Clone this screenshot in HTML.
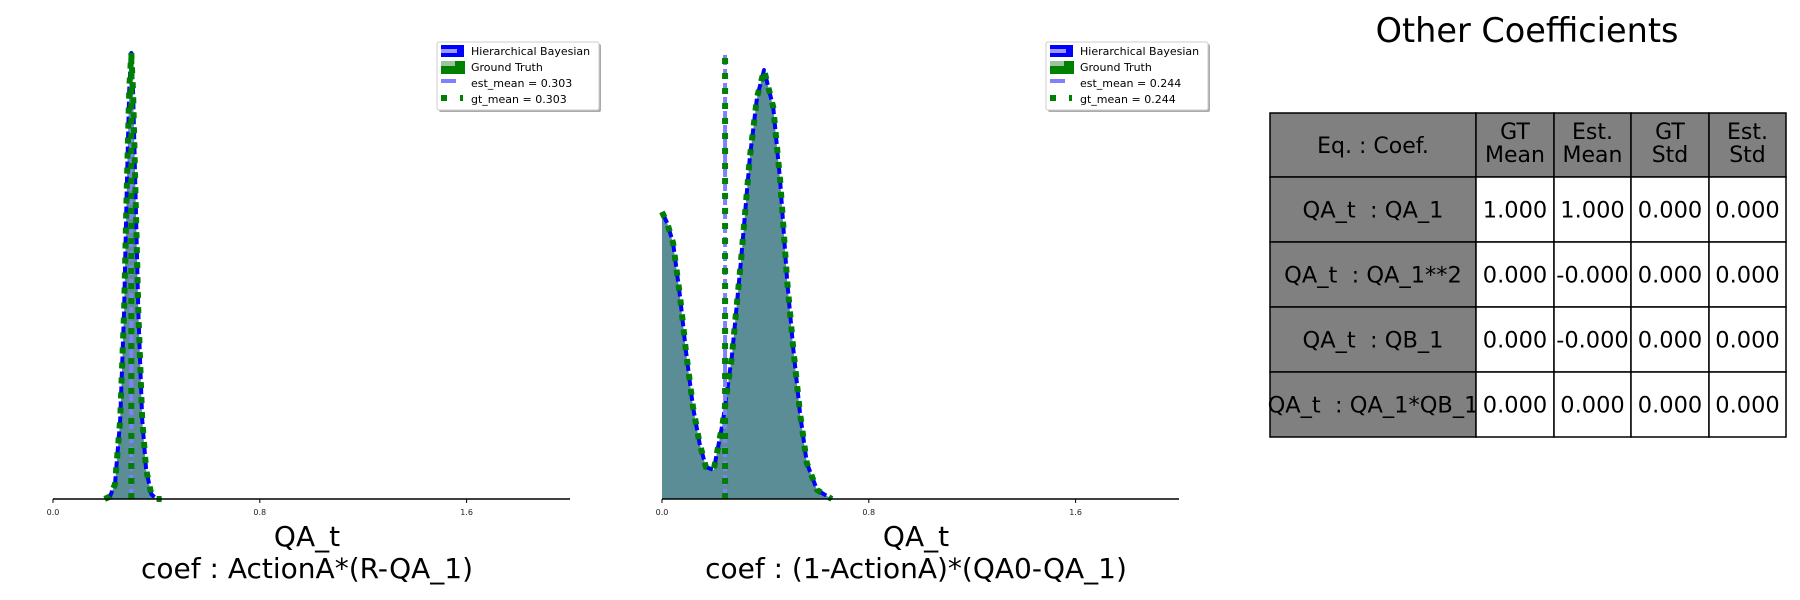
<!DOCTYPE html>
<html><head><meta charset="utf-8"><style>
html,body{margin:0;padding:0;background:#fff;}
svg{display:block;font-family:"DejaVu Sans","Liberation Sans",sans-serif;}
text{white-space:pre;}
</style></head><body>
<svg id="fig" width="1800" height="600" viewBox="0 0 1800 600" xml:space="preserve">
  <g id="c1"></g>
  <g id="c2"></g>
  <g id="tbl">
    <text x="1527" y="42" font-size="33.5" text-anchor="middle">Other Coefficients</text>
  </g>
</svg>
<script>
const NS='http://www.w3.org/2000/svg';
// chart 1 data
const c1X=[0.20,0.22,0.24,0.26,0.275,0.285,0.295,0.303,0.31,0.32,0.33,0.345,0.36,0.38,0.40,0.42];
const c1Y=[0,0.05,0.3,1.6,3.8,6.2,8.3,9.0,8.2,6.0,3.8,1.6,0.6,0.1,0,0];
const c1Mean=0.303;
const c1YMax=9.0;
// chart 2 data
const c2X=[0,0.02,0.043,0.07,0.092,0.12,0.145,0.17,0.2,0.235,0.27,0.305,0.34,0.368,0.395,0.43,0.457,0.484,0.507,0.534,0.56,0.6,0.657];
const c2Y=[2.87,2.76,2.56,2.02,1.49,0.92,0.56,0.32,0.29,0.76,1.42,2.36,3.42,4.02,4.29,3.92,3.19,2.19,1.52,0.86,0.36,0.09,0];
const c2Mean=0.244;
const c2YMax=4.46;
const xTicks=[0.0,0.8,1.6];
const xTickLabels=['0.0','0.8','1.6'];
const legendLabels=['Hierarchical Bayesian','Ground Truth'];
const c1MeanLabels=['est_mean = 0.303','gt_mean = 0.303'];
const c2MeanLabels=['est_mean = 0.244','gt_mean = 0.244'];
// table data
const colHeaders=[['Eq. : Coef.'],['GT','Mean'],['Est.','Mean'],['GT','Std'],['Est.','Std']];
const rowLabels=['QA_t  : QA_1','QA_t  : QA_1**2','QA_t  : QB_1','QA_t  : QA_1*QB_1'];
const gtMean=['1.000','0.000','0.000','0.000'];
const estMean=['1.000','-0.000','-0.000','0.000'];
const gtStd=['0.000','0.000','0.000','0.000'];
const estStd=['0.000','0.000','0.000','0.000'];

function mk(tag,attrs,parent){const e=document.createElementNS(NS,tag);for(const k in attrs)e.setAttribute(k,attrs[k]);if(parent)parent.appendChild(e);return e;}

function drawChart(g,x0,xs,ys,mean,yMax,meanLabels,title2){
  const axY=499,top=53,W=517,xMin=0,xMaxD=2.0;
  const sx=v=>x0+(v-xMin)/(xMaxD-xMin)*W;
  const sy=v=>axY-(v/yMax)*(axY-top);
  let d='M'+sx(xs[0])+','+axY;
  xs.forEach((v,i)=>{d+=' L'+sx(v).toFixed(1)+','+sy(ys[i]).toFixed(1);});
  d+=' L'+sx(xs[xs.length-1])+','+axY+' Z';
  const fill=mk('path',{d:d,fill:'#5b8d96'},g);
  
  
  let ld='';
  xs.forEach((v,i)=>{ld+=(i?' L':'M')+sx(v).toFixed(1)+','+sy(ys[i]).toFixed(1);});
  const bl=mk('path',{d:ld,fill:'none',stroke:'#0000ff','stroke-width':4,'stroke-dasharray':'12,3','stroke-linejoin':'round'},g);
  
  
  const em=mk('line',{x1:sx(mean),x2:sx(mean),y1:axY,y2:top,stroke:'#8080ff','stroke-width':4,'stroke-dasharray':'10,4'},g);
  
  
  const gl=mk('path',{d:ld,fill:'none',stroke:'#008000','stroke-width':6,'stroke-dasharray':'6,9'},g);
  
  
  const gm=mk('line',{x1:sx(mean),x2:sx(mean),y1:axY,y2:top,stroke:'#008000','stroke-width':6,'stroke-dasharray':'6,9'},g);
  
  
  const ax=mk('line',{x1:x0,x2:x0+W,y1:axY,y2:axY,stroke:'#000','stroke-width':1.5},g);
  
  
  xTicks.forEach((t,i)=>{
    const tk=mk('line',{x1:sx(t),x2:sx(t),y1:axY,y2:axY+4,stroke:'#000','stroke-width':1},g);
    
    
    const tl=mk('text',{x:sx(t),y:axY+16,'font-size':8,'text-anchor':'middle',fill:'#222'},g);
    tl.textContent=xTickLabels[i];
    
    
  });
  const t1=mk('text',{x:x0+254,y:546,'font-size':28,'text-anchor':'middle'},g);
  t1.textContent='QA_t';
  
  
  const t2=mk('text',{x:x0+254,y:578,'font-size':28,'text-anchor':'middle'},g);
  t2.textContent=title2;
  
  
  // legend
  const lx=x0+384, ly=42;
  const lg=mk('g',{},g);
  
  
  mk('rect',{x:lx+2,y:ly+2,width:162,height:68,fill:'#aaa',rx:2},lg);
  mk('rect',{x:lx,y:ly,width:162,height:68,fill:'#fff',stroke:'#ccc',rx:2},lg);
  mk('rect',{x:lx+4,y:ly+3,width:23,height:12,fill:'#0000ff'},lg);
  mk('rect',{x:lx+4,y:ly+7,width:16,height:4,fill:'#9a9aff'},lg);
  mk('rect',{x:lx+4,y:ly+19,width:24,height:13,fill:'#008000'},lg);
  mk('rect',{x:lx+4,y:ly+19,width:14,height:5,fill:'#9cc49c'},lg);
  mk('rect',{x:lx+4,y:ly+37,width:15,height:4,fill:'#8080ff'},lg);
  mk('rect',{x:lx+4,y:ly+53,width:6,height:6,fill:'#008000'},lg);
  mk('rect',{x:lx+23,y:ly+53,width:3,height:6,fill:'#008000'},lg);
  const labs=[legendLabels[0],legendLabels[1],meanLabels[0],meanLabels[1]];
  const ys2=[13,29,45,61];
  labs.forEach((s,i)=>{
    const t=mk('text',{x:lx+34,y:ly+ys2[i],'font-size':11},lg);
    t.textContent=s;
    
    
  });
}
drawChart(document.getElementById('c1'),53,c1X,c1Y,c1Mean,c1YMax,c1MeanLabels,'coef : ActionA*(R-QA_1)');
drawChart(document.getElementById('c2'),662,c2X,c2Y,c2Mean,c2YMax,c2MeanLabels,'coef : (1-ActionA)*(QA0-QA_1)');

// table
(function(){
  const g=document.getElementById('tbl');
  const cx=[1270,1476,1554,1631,1709,1786];
  const ry=[113,177,242,307,372,437];
  const cols=[rowLabels,gtMean,estMean,gtStd,estStd];
  for(let c=0;c<5;c++){
    const h=mk('rect',{x:cx[c],y:ry[0],width:cx[c+1]-cx[c],height:ry[1]-ry[0],fill:'#808080',stroke:'#000','stroke-width':1.5},g);
    
    
    const lines=colHeaders[c];
    lines.forEach((s,i)=>{
      const yy=lines.length===1?153:139+i*23;
      const t=mk('text',{x:(cx[c]+cx[c+1])/2,y:yy,'font-size':22,'text-anchor':'middle'},g);
      t.textContent=s;
      
      
    });
    for(let r=0;r<4;r++){
      const cell=mk('rect',{x:cx[c],y:ry[r+1],width:cx[c+1]-cx[c],height:ry[r+2]-ry[r+1],fill:c===0?'#808080':'#fff',stroke:'#000','stroke-width':1.5},g);
      
      
    }
  }
  for(let c=0;c<5;c++){
    for(let r=0;r<4;r++){
      const t=mk('text',{x:(cx[c]+cx[c+1])/2,y:(ry[r+1]+ry[r+2])/2+8,'font-size':22.5,'text-anchor':'middle'},g);
      t.textContent=cols[c][r];
      
      
    }
  }
})();
</script>
</body></html>
